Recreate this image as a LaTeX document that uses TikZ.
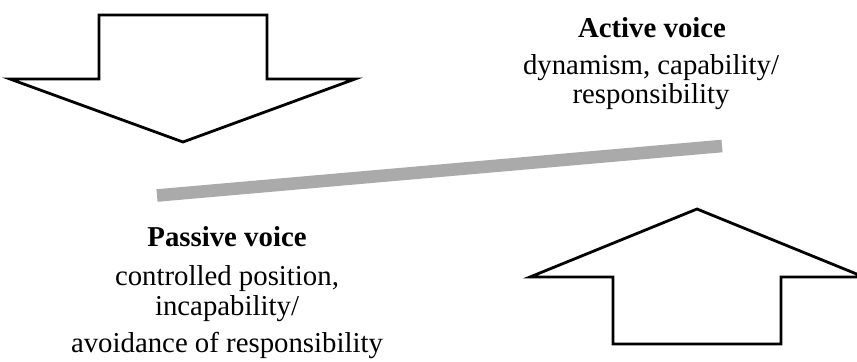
\documentclass[tikz,border=0pt]{standalone}
\usepackage{fontspec}
\setmainfont{Liberation Serif}
\usepackage{tikz}
\usetikzlibrary{positioning}
\definecolor{bargray}{HTML}{AAAAAA}

\begin{document}
\begin{tikzpicture}[x=0.5pt,y=-0.5pt,
  bigarrow/.style={draw=black,fill=white,line width=1.4pt,line join=miter},
  voicetitle/.style={font=\fontsize{14.4}{14.5}\selectfont\bfseries,anchor=base,inner sep=0pt},
  voicetext/.style={font=\fontsize{14.4}{14.5}\selectfont,align=center,anchor=base,inner sep=0pt}]
  \useasboundingbox (0,0) rectangle (857,361);
  % arrow pointing down, top left
  \draw[bigarrow] (99,15) -- (267,15) -- (267,79) -- (355,79) -- (183,142) -- (10,79) -- (99,79) -- cycle;
  % arrow pointing up, bottom right
  \draw[bigarrow] (613,344) -- (781,344) -- (781,277) -- (864,277) -- (697,209) -- (530,277) -- (613,277) -- cycle;
  % tilted bar
  \coordinate (barlow) at (157,195.5);
  \coordinate (barhigh) at (722,146);
  \draw[bargray,line width=6.3pt] (barlow) -- (barhigh);
  % labels (base anchor = last line)
  \node[voicetitle] (active) at (652,37) {Active voice};
  \node[voicetext] (activetxt) at (651,103) {dynamism, capability/\\responsibility};
  \node[voicetitle] (passive) at (227,246) {Passive voice};
  \node[voicetext] (passivetxt) at (227,352) {controlled position,\\[0.5pt]incapability/\\[4pt]avoidance of responsibility};
\end{tikzpicture}
\end{document}
